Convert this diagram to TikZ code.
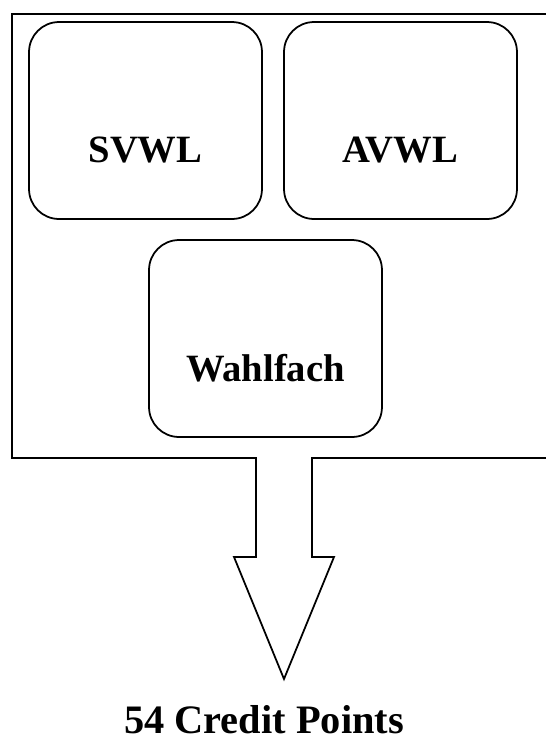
\documentclass[tikz,border=0pt]{standalone}
\usepackage{fontspec}
\setmainfont{Liberation Serif}

\tikzset{
	modul/.style={draw,line width=1pt,rounded corners=0.6cm,minimum width=4.66cm,minimum height=3.94cm,
		inner sep=0pt,text height=1.7cm,text depth=0pt,font=\fontsize{22}{26}\selectfont\bfseries},
}

\begin{document}
\begin{tikzpicture}[x=0.02cm,y=-0.02cm]
	\clip (0,0) rectangle (546,745);
	\fill[white] (0,0) rectangle (546,745);

	% Rahmen mit Pfeil nach unten
	\coordinate (sl) at (256,458);
	\coordinate (sr) at (312,458);
	\coordinate (tip) at (284,679);
	\draw[line width=1pt] (sl) -- (12,458) -- (12,14) -- (570,14) -- (570,458) -- (sr)
		-- (312,557) -- (334,557) -- (tip) -- (234,557) -- (256,557) -- cycle;

	\begin{scope}[every node/.style={modul}]
		\node (svwl) at (145.5,120.5) {SVWL};
		\node (avwl) at (400.5,120.5) {AVWL};
		\node (wahl) at (265.5,338.5) {Wahlfach};
	\end{scope}

	\node[anchor=base,font=\fontsize{23}{27}\selectfont\bfseries] (cp) at (264,733) {54 Credit Points};
\end{tikzpicture}
\end{document}
